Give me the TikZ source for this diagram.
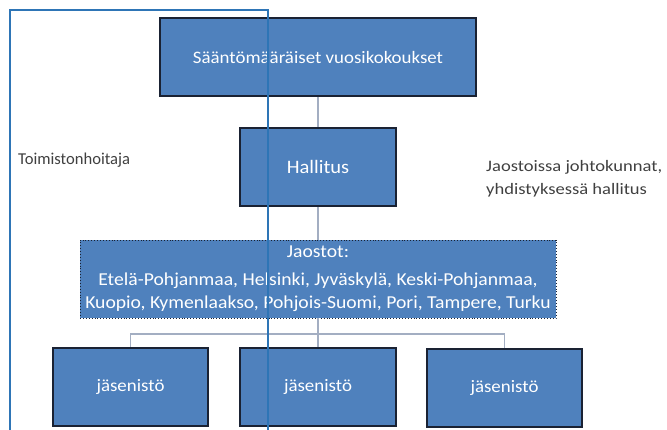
\documentclass[tikz,border=0pt]{standalone}
\usepackage{fontspec}
\setmainfont{Carlito}
\newfontfamily\wideboxfont[FakeStretch=1.08]{Carlito}
\newfontfamily\widelabelfont[FakeStretch=1.16]{Carlito}
\definecolor{boxblue}{HTML}{4F81BD}
\definecolor{boxedge}{HTML}{1A2233}
\definecolor{outline}{HTML}{2E75B6}
\definecolor{conn}{HTML}{A3AEC2}
\definecolor{labelgray}{HTML}{404040}
\begin{document}
\begin{tikzpicture}[x=1pt,y=-1pt,
  orgbox/.style={draw=boxedge, line width=2pt, fill=boxblue, text=white, inner sep=0pt,
    font=\wideboxfont\fontsize{17.5}{21}\selectfont, align=center},
  dotbox/.style={draw=boxedge, dotted, line width=0.9pt, fill=boxblue, text=white, inner sep=0pt,
    font=\wideboxfont\fontsize{18.2}{23}\selectfont, align=center},
  connector/.style={draw=conn, line width=1.8pt},
  sidelabel/.style={text=labelgray, font=\fontsize{16.6}{23}\selectfont, inner sep=0pt, align=left},
  widelabel/.style={text=labelgray, font=\widelabelfont\fontsize{16}{23}\selectfont, inner sep=0pt, align=left},
  frameline/.style={draw=outline, line width=2pt}]
\useasboundingbox (0,0) rectangle (667,430);
\node[orgbox, minimum width=316pt, minimum height=78pt] (top) at (318,57) {Sääntömääräiset vuosikokoukset};
\node[orgbox, minimum width=156pt, minimum height=78pt, font=\wideboxfont\fontsize{19}{21}\selectfont] (hal) at (318,167) {Hallitus};
\node[dotbox, minimum width=476pt, minimum height=78pt] (jao) at (318,279) {Jaostot:\\[5pt]Etelä-Pohjanmaa, Helsinki, Jyväskylä, Keski-Pohjanmaa,\\Kuopio, Kymenlaakso, Pohjois-Suomi, Pori, Tampere, Turku};
\node[orgbox, minimum width=155pt, minimum height=78pt] (left) at (130.5,387) {jäsenistö};
\node[orgbox, minimum width=156pt, minimum height=78pt] (mid) at (318,387) {jäsenistö};
\node[orgbox, minimum width=155pt, minimum height=78pt] (right) at (504.5,388) {jäsenistö};
\coordinate (bar) at (318,334);
\draw[connector] (top.south) -- (hal.north);
\draw[connector] (hal.south) -- (jao.north);
\draw[connector] (jao.south) -- (mid.north);
\draw[connector] (left.north) -- (left.north |- bar) -- (right.north |- bar) -- (right.north);
\node[sidelabel, anchor=west] (toim) at (18,160) {Toimistonhoitaja};
\node[widelabel, anchor=west] (jaos) at (486,179) {Jaostoissa johtokunnat,\\yhdistyksessä hallitus};
\coordinate (fbl) at (10,432);
\coordinate (ftl) at (10,10);
\coordinate (ftr) at (268,10);
\coordinate (fbr) at (268,432);
\draw[frameline] (fbl) -- (ftl) -- (ftr) -- (fbr);
\end{tikzpicture}
\end{document}
